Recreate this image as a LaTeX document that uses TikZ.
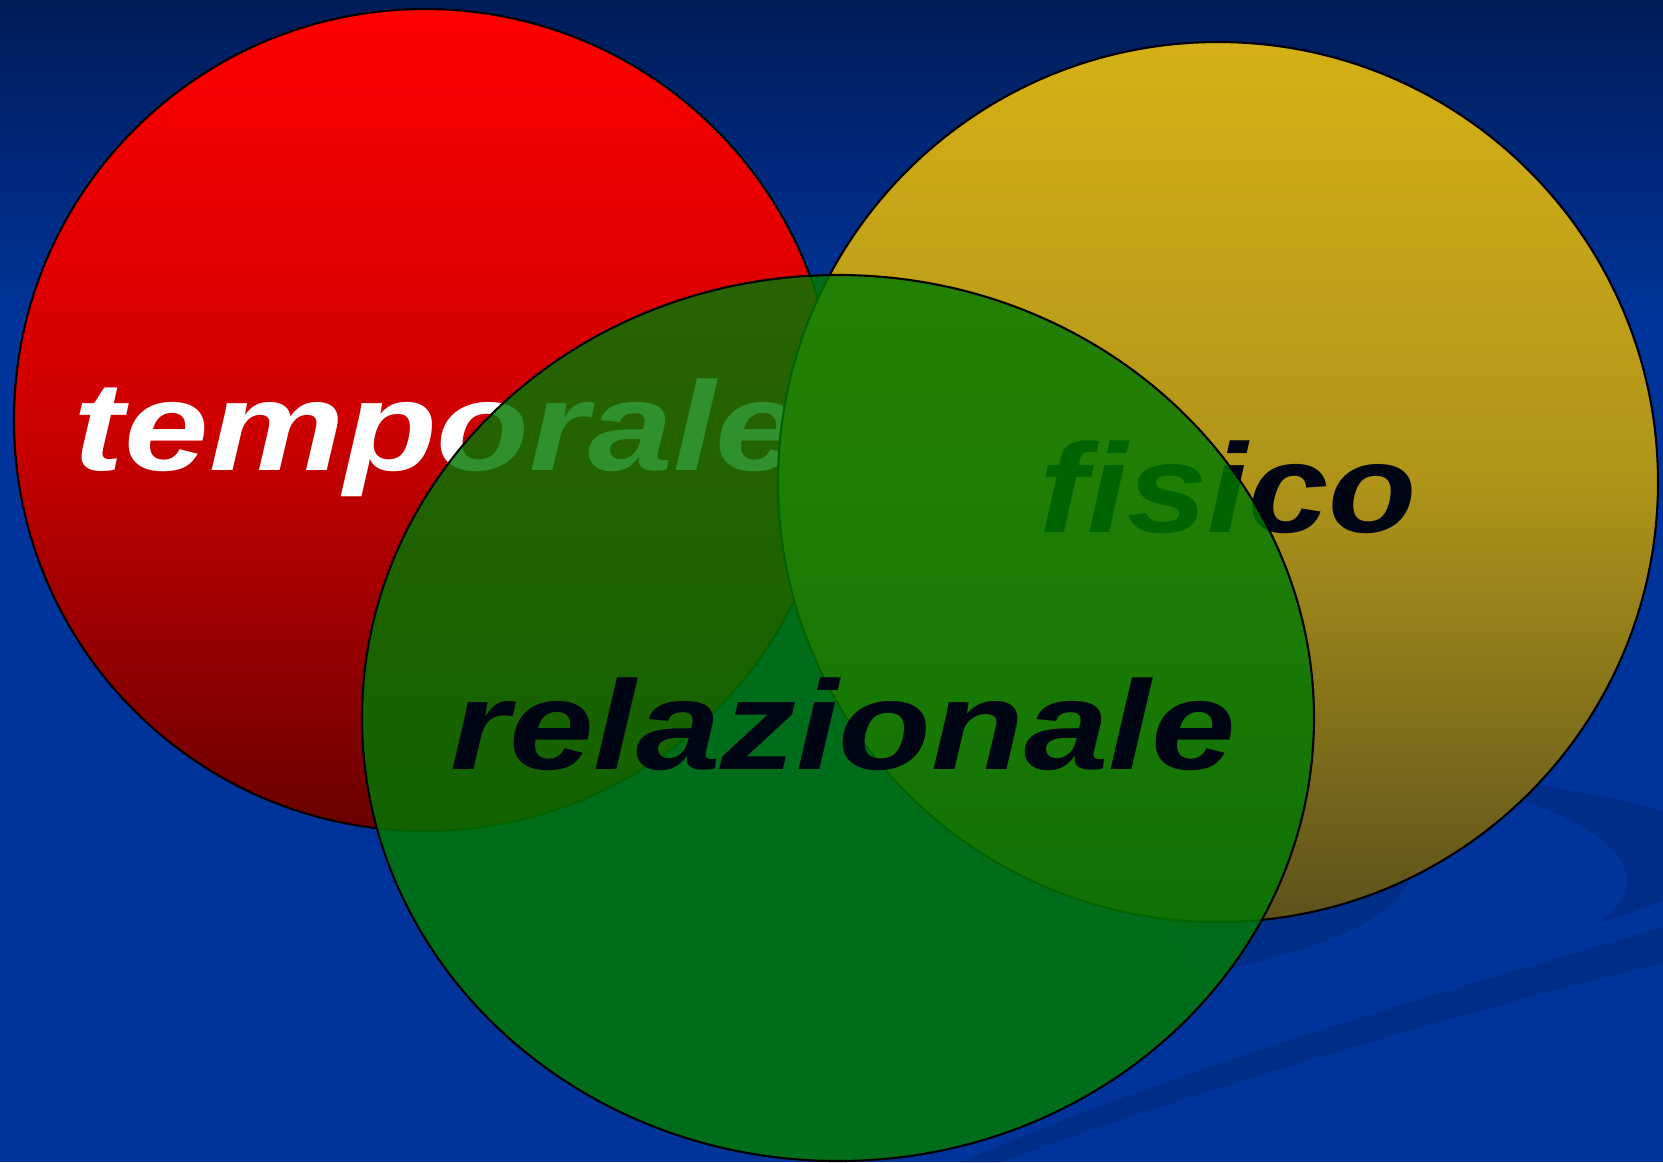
\documentclass[tikz,border=0pt]{standalone}
\usepackage{fontspec}
\setmainfont{Liberation Sans}
\usepackage{tikz}

\definecolor{bgtop}{RGB}{0,28,88}
\definecolor{bgblue}{RGB}{0,52,155}
\definecolor{swoosh}{RGB}{0,45,135}
\definecolor{redtop}{RGB}{255,0,0}
\definecolor{redmid}{RGB}{206,0,0}
\definecolor{redbot}{RGB}{105,0,0}
\definecolor{goldtop}{RGB}{213,176,22}
\definecolor{goldmid}{RGB}{175,148,25}
\definecolor{goldbot}{RGB}{92,82,28}
\definecolor{relgreen}{RGB}{0,122,0}
\definecolor{inkdark}{RGB}{0,5,20}

\tikzset{
  venn text/.style={font=\fontsize{36}{40}\selectfont\bfseries\itshape,
    inner sep=0pt, anchor=base, xscale=1.2},
  venn edge/.style={draw=black, line width=0.6pt}
}

\begin{document}
\begin{tikzpicture}[x=0.01cm,y=-0.01cm]
\useasboundingbox (0,0) rectangle (1663,1162);
% background
\fill [bgblue] (0,0) rectangle (1663,1162);
\shade [top color=bgtop, bottom color=bgblue] (0,0) rectangle (1663,320);
\fill [swoosh] (960,1162) .. controls (1200,1060) and (1450,990) .. (1663,927)
  -- (1663,963) .. controls (1450,1015) and (1200,1090) .. (1000,1162) -- cycle;
\fill [swoosh] (1200,975) .. controls (1320,950) and (1425,915) .. (1412,850)
  -- (1300,800) -- (1150,900) -- cycle;
\fill [swoosh] (1480,775) .. controls (1560,788) and (1630,800) .. (1663,812)
  -- (1663,900) .. controls (1640,910) and (1615,918) .. (1596,924)
  .. controls (1645,892) and (1645,845) .. (1528,802) -- cycle;
% temporale
\shadedraw [venn edge, top color=redtop, bottom color=redbot, middle color=redmid]
  (425,420) circle (411);
\node [venn text, text=white] (temporale) at (437,470) {temporale};
% fisico
\shadedraw [venn edge, top color=goldtop, bottom color=goldbot, middle color=goldmid]
  (1218,482) circle (440);
\node [venn text, text=inkdark, xscale=0.95] (fisico) at (1228,532) {fisico};
% relazionale
\filldraw [venn edge, fill=relgreen, fill opacity=0.82]
  (838,718) ellipse [x radius=476, y radius=443];
\node [venn text, text=inkdark] (relazionale) at (843,769) {relazionale};
\end{tikzpicture}
\end{document}
